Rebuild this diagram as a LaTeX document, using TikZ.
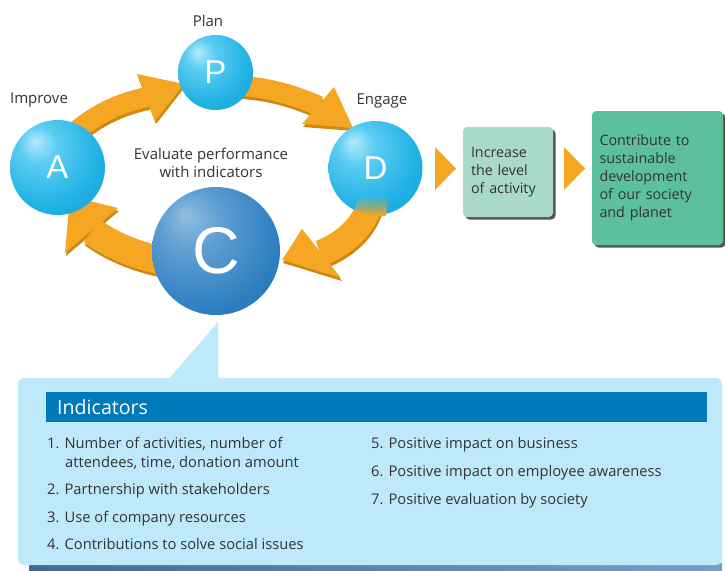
\documentclass[tikz,border=0pt]{standalone}
\usepackage{fontspec}
\setmainfont{Open Sans}
\newfontfamily\letterfont{Liberation Sans}
\usetikzlibrary{fadings,shadows}
\definecolor{orA}{HTML}{F5A623}
\definecolor{orD}{HTML}{CF8712}
\definecolor{txt}{HTML}{333333}
\definecolor{boxL}{HTML}{BEE9FB}
\definecolor{barB}{HTML}{0079BA}
\definecolor{mint}{HTML}{A9D9C7}
\definecolor{tealG}{HTML}{5CBF9E}
\definecolor{shd}{HTML}{5A5550}
\definecolor{stripL}{HTML}{3A6C94}
\definecolor{stripR}{HTML}{6FA2CB}
\definecolor{cyA}{HTML}{B4EAFA}
\definecolor{cyB}{HTML}{5ACDF2}
\definecolor{cyC}{HTML}{22B2E5}
\definecolor{cyD}{HTML}{0A9BD2}
\definecolor{cyE}{HTML}{0381B6}
\definecolor{blA}{HTML}{92BEE0}
\definecolor{blB}{HTML}{5F9ED2}
\definecolor{blC}{HTML}{2F80C2}
\definecolor{blD}{HTML}{155FA0}
\definecolor{blE}{HTML}{0A3F78}
\pgfdeclareradialshading{sphcyan}{\pgfpoint{-12bp}{14bp}}{color(0bp)=(cyA); color(10bp)=(cyB); color(28bp)=(cyC); color(46bp)=(cyD); color(66bp)=(cyE)}
\pgfdeclareradialshading{sphblue}{\pgfpoint{-12bp}{14bp}}{color(0bp)=(blA); color(12bp)=(blB); color(30bp)=(blC); color(48bp)=(blD); color(66bp)=(blE)}
\tikzset{
  ball/.style={circle, inner sep=0pt, shade, shading=sphcyan, text=white, font=\letterfont\fontsize{33}{33}\selectfont},
  bigball/.style={ball, shading=sphblue, font=\letterfont\fontsize{66}{66}\selectfont},
  lbl/.style={inner sep=0pt, text=txt, font=\fontsize{15}{18}\selectfont},
  item/.style={inner sep=0pt, text=txt, anchor=base west, font=\fontsize{14.7}{18}\selectfont},
  boxA/.style={rounded corners=4pt, inner ysep=0pt, align=left, text=txt, font=\fontsize{14.3}{18}\selectfont,
     drop shadow={shadow xshift=2.5pt, shadow yshift=-2.5pt, opacity=1, fill=shd}},
  body/.style={draw=orA, line width=#1},
  bodyS/.style={draw=orD, line width=#1},
  chev/.style={fill=orA}
}
\begin{document}
\begin{tikzpicture}[x=1pt,y=-1pt]
\useasboundingbox (0,0) rectangle (725,570);
% ---- cycle arrows: shadows
\begin{scope}[shift={(1,3)}]
  \draw[bodyS=20] (72,135) .. controls (92,116) and (118,103) .. (147,97);
  \fill[orD] (137,74) -- (184,84) -- (155,121) -- cycle;
  \draw[bodyS=20] (240,86) .. controls (265,87) and (292,94) .. (319,106);
  \fill[orD] (334,87) -- (353,128) -- (302,124) -- cycle;
  \draw[bodyS=26] (372,195) .. controls (368,222) and (348,242) .. (321,253);
  \fill[orD] (302,229) -- (341,278) -- (282,260) -- cycle;
  \draw[bodyS=28] (170,262) .. controls (145,258) and (115,248) .. (92,231);
  \fill[orD] (118,208) -- (70,196) -- (65,253) -- cycle;
\end{scope}
% ---- cycle arrows
\coordinate (apS) at (72,135); \coordinate (apE) at (147,97);
\coordinate (pdS) at (240,86); \coordinate (pdE) at (319,106);
\coordinate (dcS) at (372,195); \coordinate (dcE) at (321,253);
\coordinate (caS) at (170,262); \coordinate (caE) at (92,231);
\draw[body=20] (apS) .. controls (92,116) and (118,103) .. (apE);
\fill[orA] (137,74) -- (184,84) -- (155,121) -- cycle;
\draw[body=20] (pdS) .. controls (265,87) and (292,94) .. (pdE);
\fill[orA] (334,87) -- (353,128) -- (302,124) -- cycle;
\draw[body=26] (dcS) .. controls (368,222) and (348,242) .. (dcE);
\fill[orA] (302,229) -- (341,278) -- (282,260) -- cycle;
\draw[body=28] (caS) .. controls (145,258) and (115,248) .. (caE);
\fill[orA] (118,208) -- (70,196) -- (65,253) -- cycle;
% ---- spheres
\node[ball, minimum size=75pt] (P) at (215.5,72.5) {P};
\node[ball, minimum size=95pt] (A) at (57.5,167.5) {A};
\node[ball, minimum size=94pt] (D) at (375.5,168) {D};
\fill[orA, path fading=north] (358,196) .. controls (370,199) and (380,199) .. (388,196) -- (386,216) -- (353,216) -- cycle;
\node[bigball, minimum size=128pt] (C) at (216,251) {C};
% ---- labels
\node[lbl] (plan) at (208,21) {Plan};
\node[lbl] (improve) at (39,100) {Improve};
\node[lbl] (engage) at (382,101) {Engage};
\node[lbl, align=center] (eval) at (211,163) {Evaluate performance\\with indicators};
% ---- outcome boxes
\fill[chev] (435,147) -- (456,168.5) -- (435,190) -- cycle;
\node[boxA, fill=mint, minimum width=90pt, minimum height=90pt, text width=74pt, inner xsep=8pt] (inc) at (508,172) {Increase\\the level\\of activity};
\fill[chev] (564,147) -- (585,168.5) -- (564,190) -- cycle;
\node[boxA, fill=tealG, minimum width=131pt, minimum height=134pt, text width=116pt, inner xsep=7.5pt] (sus) at (657.5,178) {Contribute to\\sustainable\\development\\of our society\\and planet};
% ---- indicators callout
\shade[left color=stripL, right color=stripR] (29,563) rectangle (722,570);
\fill[boxL, rounded corners=6pt] (18,378) rectangle (722,565);
\fill[boxL] (168,380) -- (218,322) -- (218,380) -- cycle;
\node[fill=barB, minimum width=661pt, minimum height=30pt, anchor=north west, inner sep=0pt] (bar) at (46,392) {};
\node[anchor=west, inner sep=0pt, text=white, font=\fontsize{19.6}{19.6}\selectfont] (ind) at (57,407) {Indicators};
\node[item] (i1) at (47,448) {1. Number of activities, number of};
\node[item] (i1b) at (65,467) {attendees, time, donation amount};
\node[item] (i2) at (47,494) {2. Partnership with stakeholders};
\node[item] (i3) at (47,522) {3. Use of company resources};
\node[item] (i4) at (47,549) {4. Contributions to solve social issues};
\node[item] (i5) at (371,448) {5. Positive impact on business};
\node[item] (i6) at (371,476) {6. Positive impact on employee awareness};
\node[item] (i7) at (371,504) {7. Positive evaluation by society};
\end{tikzpicture}
\end{document}
